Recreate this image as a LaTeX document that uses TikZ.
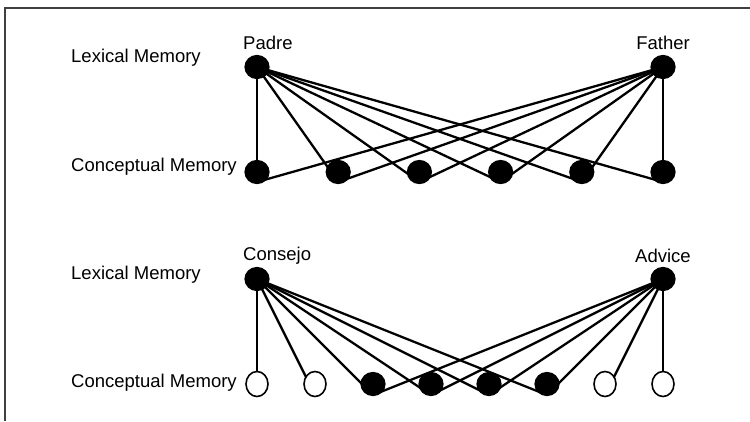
\documentclass[tikz,border=0pt]{standalone}
\usepackage{fontspec}
\setmainfont{Liberation Sans}
\usetikzlibrary{shapes.geometric}
\begin{document}
\begin{tikzpicture}[x=1pt,y=-1pt,
  full/.style={ellipse,draw=black,fill=black,line width=1.2pt,minimum width=24pt,minimum height=23pt,inner sep=0pt},
  hollow/.style={ellipse,draw=black,fill=white,line width=1.6pt,minimum width=22pt,minimum height=25pt,inner sep=0pt},
  link/.style={line width=2.3pt,black},
  lbl/.style={font=\fontsize{18.5}{20}\selectfont,inner sep=0pt}]
\useasboundingbox (0,0) rectangle (750,421);
\fill[white] (0,0) rectangle (750,421);
\draw[line width=1.5pt,black!75] (5,421) -- (5,8) -- (750,8);

% upper panel
\node[lbl,anchor=west] (lex1) at (71,58) {Lexical Memory};
\node[lbl,anchor=west] (con1) at (71,167) {Conceptual Memory};
\node[lbl,anchor=west] (padrel) at (243,43) {Padre};
\node[lbl] (fatherl) at (663,43) {Father};
\coordinate (Pc) at (257,67);
\coordinate (Fc) at (663,67);
\foreach \i/\x in {1/257,2/338.2,3/419.4,4/500.6,5/581.8,6/663}{
  \coordinate (u\i) at (\x,172);
}
\foreach \i in {1,...,6}{
  \draw[link] (Pc) -- ([yshift=-10pt]u\i);
  \draw[link] (Fc) -- ([yshift=-10pt]u\i);
}
\node[full] (padre) at (Pc) {};
\node[full] (father) at (Fc) {};
\foreach \i in {1,...,6}{ \node[full] (un\i) at (u\i) {}; }

% lower panel
\node[lbl,anchor=west] (lex2) at (71,275) {Lexical Memory};
\node[lbl,anchor=west] (con2) at (71,383) {Conceptual Memory};
\node[lbl,anchor=west] (consejol) at (243,256) {Consejo};
\node[lbl] (advicel) at (663,256) {Advice};
\coordinate (Cc) at (257,279);
\coordinate (Ac) at (663,279);
\foreach \i/\x in {1/257,2/315,3/373,4/431,5/489,6/547,7/605,8/663}{
  \coordinate (d\i) at (\x,384);
}
\foreach \i in {1,...,6}{ \draw[link] (Cc) -- ([yshift=-11pt]d\i); }
\foreach \i in {3,...,8}{ \draw[link] (Ac) -- ([yshift=-11pt]d\i); }
\node[full] (consejo) at (Cc) {};
\node[full] (advice) at (Ac) {};
\node[hollow] (dn1) at (d1) {};
\node[hollow] (dn2) at (d2) {};
\foreach \i in {3,...,6}{ \node[full] (dn\i) at (d\i) {}; }
\node[hollow] (dn7) at (d7) {};
\node[hollow] (dn8) at (d8) {};
\end{tikzpicture}
\end{document}
